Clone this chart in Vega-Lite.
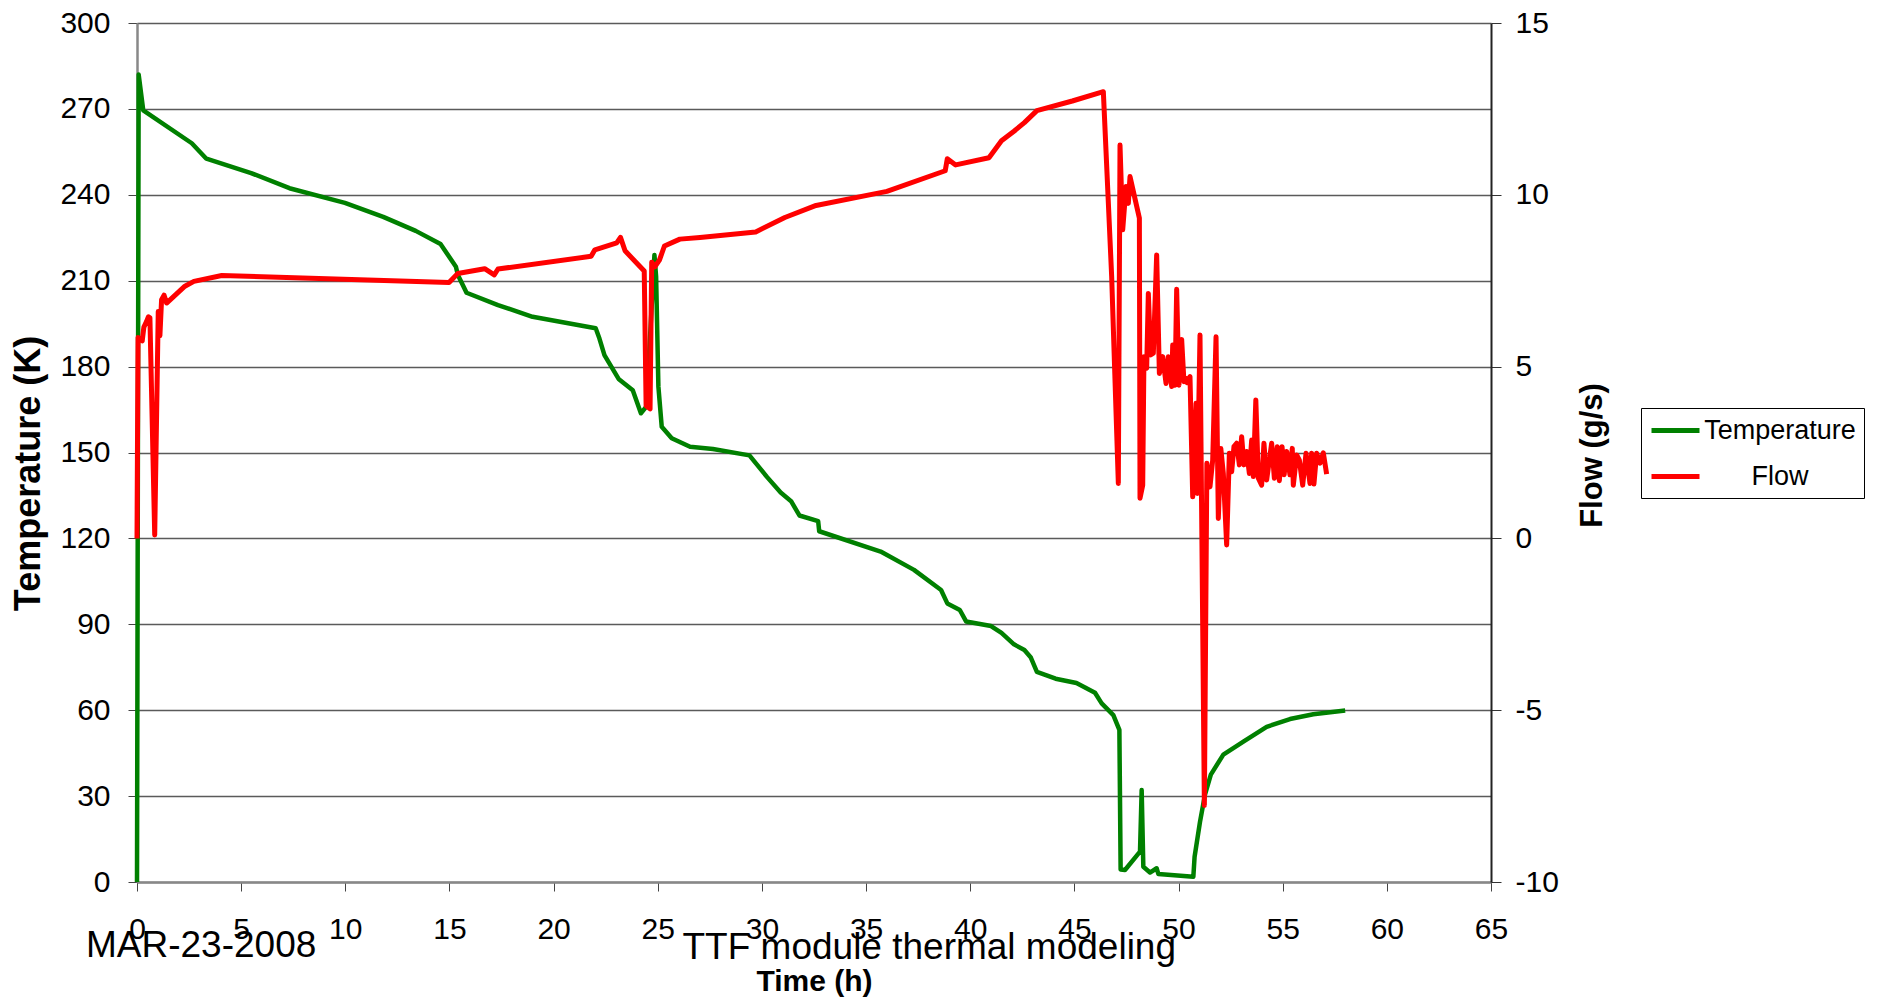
{
  "$schema": "https://vega.github.io/schema/vega-lite/v6.json",
  "autosize": {"type": "none"},
  "padding": {"left": 137, "top": 23, "right": 390, "bottom": 120},
  "width": 1354,
  "height": 859,
  "background": "white",
  "config": {"font": "Liberation Sans", "view": {"stroke": null}},
  "title": {
    "text": "MAR-23-2008",
    "orient": "bottom",
    "anchor": "start",
    "frame": "group",
    "offset": 0,
    "dx": -51,
    "dy": -39,
    "baseline": "alphabetic",
    "fontSize": 37,
    "fontWeight": "normal",
    "color": "#000"
  },
  "datasets": {
    "temperature": [
      {"time": 0, "temperature": 0},
      {"time": 0.08, "temperature": 282},
      {"time": 0.3, "temperature": 269.5},
      {"time": 2.63, "temperature": 258},
      {"time": 3.33, "temperature": 252.6},
      {"time": 5.48, "temperature": 247.6},
      {"time": 7.32, "temperature": 242.3},
      {"time": 9.98, "temperature": 237.2},
      {"time": 11.82, "temperature": 232.3},
      {"time": 13.38, "temperature": 227.4},
      {"time": 14.57, "temperature": 222.8},
      {"time": 15.31, "temperature": 214.9},
      {"time": 15.4, "temperature": 212.1},
      {"time": 15.82, "temperature": 205.8},
      {"time": 17.33, "temperature": 201.5},
      {"time": 18.99, "temperature": 197.4},
      {"time": 22.02, "temperature": 193.4},
      {"time": 22.2, "temperature": 189.8},
      {"time": 22.44, "temperature": 184},
      {"time": 23.12, "temperature": 175.7},
      {"time": 23.8, "temperature": 171.7},
      {"time": 24.19, "temperature": 163.7},
      {"time": 24.45, "temperature": 166},
      {"time": 24.84, "temperature": 219},
      {"time": 24.92, "temperature": 211.5},
      {"time": 25.03, "temperature": 173},
      {"time": 25.19, "temperature": 159},
      {"time": 25.67, "temperature": 155},
      {"time": 26.55, "temperature": 152},
      {"time": 27.65, "temperature": 151.2},
      {"time": 29.4, "temperature": 149},
      {"time": 30.25, "temperature": 141.4},
      {"time": 30.9, "temperature": 136},
      {"time": 31.4, "temperature": 133},
      {"time": 31.8, "temperature": 128},
      {"time": 32.7, "temperature": 126},
      {"time": 32.75, "temperature": 122.5},
      {"time": 35.7, "temperature": 115.4},
      {"time": 37.3, "temperature": 109},
      {"time": 38.6, "temperature": 102},
      {"time": 38.9, "temperature": 97.3},
      {"time": 39.5, "temperature": 95},
      {"time": 39.8, "temperature": 91},
      {"time": 41.0, "temperature": 89.4},
      {"time": 41.5, "temperature": 87},
      {"time": 42.1, "temperature": 83},
      {"time": 42.6, "temperature": 81},
      {"time": 42.9, "temperature": 78.5},
      {"time": 43.2, "temperature": 73.4},
      {"time": 44.1, "temperature": 71},
      {"time": 45.1, "temperature": 69.5},
      {"time": 45.99, "temperature": 66.1},
      {"time": 46.31, "temperature": 62.4},
      {"time": 46.87, "temperature": 58.3},
      {"time": 47.16, "temperature": 53.1},
      {"time": 47.22, "temperature": 4.4},
      {"time": 47.43, "temperature": 4.2},
      {"time": 48.15, "temperature": 10.6},
      {"time": 48.23, "temperature": 32.1},
      {"time": 48.31, "temperature": 5.3},
      {"time": 48.63, "temperature": 3.3},
      {"time": 48.95, "temperature": 4.8},
      {"time": 49.03, "temperature": 2.8},
      {"time": 50.71, "temperature": 1.8},
      {"time": 50.77, "temperature": 8.8},
      {"time": 51.03, "temperature": 21},
      {"time": 51.27, "temperature": 30.5},
      {"time": 51.55, "temperature": 37.5},
      {"time": 52.15, "temperature": 44.5},
      {"time": 53.15, "temperature": 49.2},
      {"time": 54.23, "temperature": 54.2},
      {"time": 55.35, "temperature": 56.9},
      {"time": 56.47, "temperature": 58.6},
      {"time": 58.0, "temperature": 59.9}
    ],
    "flow": [
      {"time": 0, "flow": 0},
      {"time": 0.05, "flow": 5.85},
      {"time": 0.25, "flow": 5.75},
      {"time": 0.33, "flow": 6.15},
      {"time": 0.45, "flow": 6.3},
      {"time": 0.55, "flow": 6.45},
      {"time": 0.62, "flow": 6.42},
      {"time": 0.85, "flow": 0.1},
      {"time": 1.02, "flow": 6.6},
      {"time": 1.1, "flow": 5.9},
      {"time": 1.18, "flow": 6.95},
      {"time": 1.3, "flow": 7.08},
      {"time": 1.42, "flow": 6.85},
      {"time": 2.3, "flow": 7.34},
      {"time": 2.73, "flow": 7.48},
      {"time": 4.07, "flow": 7.65},
      {"time": 14.98, "flow": 7.45},
      {"time": 15.4, "flow": 7.71},
      {"time": 16.69, "flow": 7.85},
      {"time": 17.15, "flow": 7.67},
      {"time": 17.33, "flow": 7.84},
      {"time": 21.8, "flow": 8.21},
      {"time": 21.98, "flow": 8.4},
      {"time": 23.03, "flow": 8.6},
      {"time": 23.21, "flow": 8.76},
      {"time": 23.43, "flow": 8.37},
      {"time": 24.35, "flow": 7.78},
      {"time": 24.44, "flow": 3.86},
      {"time": 24.63, "flow": 3.77},
      {"time": 24.71, "flow": 8.04},
      {"time": 24.85, "flow": 7.9},
      {"time": 25.08, "flow": 8.1},
      {"time": 25.32, "flow": 8.51},
      {"time": 26.06, "flow": 8.71},
      {"time": 27.03, "flow": 8.76},
      {"time": 29.7, "flow": 8.92},
      {"time": 31.1, "flow": 9.34},
      {"time": 32.6, "flow": 9.69},
      {"time": 36.0, "flow": 10.1},
      {"time": 38.8, "flow": 10.7},
      {"time": 38.9, "flow": 11.05},
      {"time": 39.3, "flow": 10.87},
      {"time": 40.9, "flow": 11.08},
      {"time": 41.5, "flow": 11.57},
      {"time": 42.1, "flow": 11.85},
      {"time": 42.6, "flow": 12.1},
      {"time": 43.2, "flow": 12.45},
      {"time": 44.9, "flow": 12.73},
      {"time": 46.39, "flow": 13.0},
      {"time": 46.79, "flow": 7.62},
      {"time": 47.11, "flow": 1.6},
      {"time": 47.19, "flow": 11.45},
      {"time": 47.32, "flow": 8.98},
      {"time": 47.48, "flow": 10.24},
      {"time": 47.59, "flow": 9.75},
      {"time": 47.67, "flow": 10.53},
      {"time": 48.12, "flow": 9.32},
      {"time": 48.15, "flow": 1.17},
      {"time": 48.28, "flow": 1.55},
      {"time": 48.34, "flow": 5.29},
      {"time": 48.47, "flow": 4.95},
      {"time": 48.55, "flow": 7.13},
      {"time": 48.66, "flow": 5.34},
      {"time": 48.79, "flow": 5.39},
      {"time": 48.95, "flow": 8.25},
      {"time": 49.08, "flow": 4.8},
      {"time": 49.24, "flow": 5.29},
      {"time": 49.4, "flow": 4.51},
      {"time": 49.51, "flow": 5.29},
      {"time": 49.67, "flow": 4.42},
      {"time": 49.72, "flow": 5.63},
      {"time": 49.83, "flow": 4.46},
      {"time": 49.91, "flow": 7.25},
      {"time": 50.02, "flow": 4.46},
      {"time": 50.15, "flow": 5.79},
      {"time": 50.26, "flow": 4.56},
      {"time": 50.36, "flow": 4.66},
      {"time": 50.42, "flow": 4.53},
      {"time": 50.55, "flow": 4.71},
      {"time": 50.68, "flow": 1.21},
      {"time": 50.84, "flow": 3.93},
      {"time": 50.9, "flow": 1.31},
      {"time": 51.03, "flow": 5.92},
      {"time": 51.24, "flow": -7.77},
      {"time": 51.36, "flow": 2.19},
      {"time": 51.51, "flow": 1.5},
      {"time": 51.64, "flow": 2.28},
      {"time": 51.8, "flow": 5.87},
      {"time": 51.91, "flow": 0.58},
      {"time": 52.03, "flow": 2.62},
      {"time": 52.15, "flow": 1.89},
      {"time": 52.31, "flow": -0.19},
      {"time": 52.44, "flow": 2.48},
      {"time": 52.55, "flow": 1.94},
      {"time": 52.66, "flow": 2.67},
      {"time": 52.79, "flow": 2.77},
      {"time": 52.92, "flow": 2.14},
      {"time": 53.03, "flow": 2.96},
      {"time": 53.14, "flow": 2.14},
      {"time": 53.27, "flow": 2.53},
      {"time": 53.4, "flow": 1.89},
      {"time": 53.51, "flow": 2.86},
      {"time": 53.59, "flow": 1.8},
      {"time": 53.71, "flow": 4.03},
      {"time": 53.83, "flow": 1.75},
      {"time": 53.99, "flow": 1.55},
      {"time": 54.1, "flow": 2.77},
      {"time": 54.23, "flow": 1.7},
      {"time": 54.47, "flow": 2.77},
      {"time": 54.6, "flow": 1.75},
      {"time": 54.74, "flow": 2.67},
      {"time": 54.84, "flow": 1.68},
      {"time": 54.97, "flow": 2.67},
      {"time": 55.07, "flow": 1.85},
      {"time": 55.19, "flow": 2.53},
      {"time": 55.35, "flow": 1.85},
      {"time": 55.46, "flow": 2.62},
      {"time": 55.51, "flow": 1.55},
      {"time": 55.67, "flow": 2.43},
      {"time": 55.8, "flow": 2.28},
      {"time": 55.96, "flow": 1.55},
      {"time": 56.12, "flow": 2.48},
      {"time": 56.31, "flow": 1.6},
      {"time": 56.39, "flow": 2.48},
      {"time": 56.5, "flow": 1.58},
      {"time": 56.63, "flow": 2.48},
      {"time": 56.79, "flow": 2.19},
      {"time": 56.95, "flow": 2.49},
      {"time": 57.11, "flow": 1.87}
    ]
  },
  "layer": [
    {
      "data": {"name": "temperature"},
      "mark": {"type": "line", "strokeWidth": 4.5, "strokeJoin": "round"},
      "encoding": {
        "x": {
          "field": "time",
          "type": "quantitative",
          "scale": {"domain": [0, 65], "nice": false, "zero": false},
          "axis": {
            "orient": "bottom",
            "values": [0, 5, 10, 15, 20, 25, 30, 35, 40, 45, 50, 55, 60, 65],
            "grid": false,
            "domainColor": "#888888",
            "domainWidth": 2.5,
            "tickColor": "#444444",
            "tickSize": 9,
            "tickWidth": 1,
            "labelFontSize": 30,
            "labelColor": "#000",
            "labelPadding": 23,
            "labelFlush": false,
            "labelOverlap": false,
            "title": "Time (h)",
            "titleFontSize": 30,
            "titleFontWeight": "bold",
            "titleColor": "#000",
            "titleX": 677,
            "titleY": 108,
            "titleAlign": "center",
            "titleBaseline": "alphabetic"
          }
        },
        "y": {
          "field": "temperature",
          "type": "quantitative",
          "scale": {"domain": [0, 300], "nice": false, "zero": false},
          "axis": {
            "orient": "left",
            "values": [0, 30, 60, 90, 120, 150, 180, 210, 240, 270, 300],
            "grid": true,
            "gridColor": "#5a5a5a",
            "gridWidth": 1.3,
            "domainColor": "#888888",
            "domainWidth": 2.5,
            "tickColor": "#444444",
            "tickSize": 9,
            "tickWidth": 1,
            "labelFontSize": 30,
            "labelColor": "#000",
            "labelPadding": 18,
            "labelFlush": false,
            "labelOverlap": false,
            "title": "Temperature (K)",
            "titleFontSize": 36,
            "titleFontWeight": "bold",
            "titleColor": "#000",
            "titleAngle": 270,
            "titleX": -109,
            "titleY": 450,
            "titleAlign": "center",
            "titleBaseline": "middle"
          }
        },
        "color": {
          "datum": "Temperature",
          "type": "nominal",
          "scale": {"domain": ["Temperature", "Flow"], "range": ["#008000", "#ff0000"]},
          "legend": {
            "orient": "none",
            "legendX": 1504,
            "legendY": 385,
            "title": null,
            "padding": 8,
            "strokeColor": "#000",
            "fillColor": "#fff",
            "symbolType": "M-1,0H3",
            "symbolSize": 576,
            "symbolStrokeWidth": 5,
            "labelFontSize": 27,
            "labelColor": "#000",
            "labelAlign": "center",
            "labelOffset": 102,
            "labelLimit": 400,
            "rowPadding": 18
          }
        }
      }
    },
    {
      "data": {"name": "flow"},
      "mark": {"type": "line", "strokeWidth": 5, "strokeJoin": "round"},
      "encoding": {
        "x": {
          "field": "time",
          "type": "quantitative",
          "axis": {
            "orient": "bottom",
            "labels": false,
            "ticks": false,
            "domain": false,
            "grid": false,
            "title": "TTF module thermal modeling",
            "titleFontSize": 37,
            "titleFontWeight": "normal",
            "titleColor": "#000",
            "titleX": 545,
            "titleY": 76,
            "titleAlign": "left",
            "titleBaseline": "alphabetic"
          }
        },
        "y": {
          "field": "flow",
          "type": "quantitative",
          "scale": {"domain": [-10, 15], "nice": false, "zero": false},
          "axis": {
            "orient": "right",
            "values": [-10, -5, 0, 5, 10, 15],
            "labelExpr": "datum.value < 0 ? '-' + abs(datum.value) : '' + datum.value",
            "grid": false,
            "domainColor": "#222222",
            "domainWidth": 2,
            "tickColor": "#333333",
            "tickSize": 10,
            "tickWidth": 1,
            "labelFontSize": 30,
            "labelColor": "#000",
            "labelPadding": 14,
            "labelFlush": false,
            "labelOverlap": false,
            "title": "Flow (g/s)",
            "titleFontSize": 31,
            "titleFontWeight": "bold",
            "titleColor": "#000",
            "titleAngle": 270,
            "titleX": 101,
            "titleY": 432,
            "titleAlign": "center",
            "titleBaseline": "middle"
          }
        },
        "color": {"datum": "Flow", "type": "nominal"}
      }
    }
  ],
  "resolve": {"scale": {"y": "independent"}, "axis": {"x": "independent"}}
}
